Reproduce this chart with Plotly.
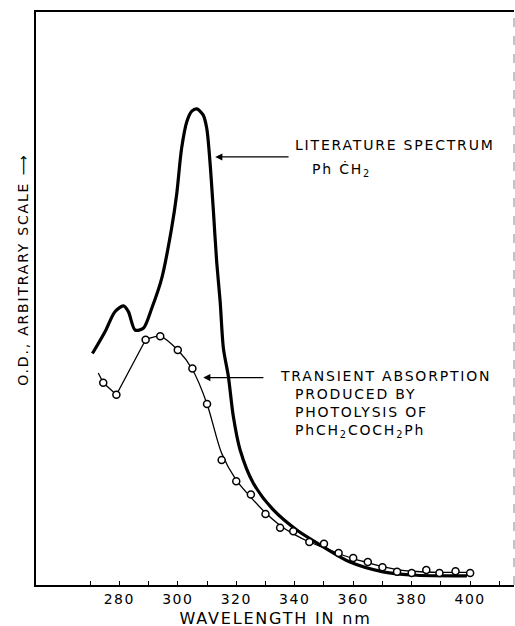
import plotly.graph_objects as go

# ---- data (O.D. in arbitrary units, 0..100) ----
lit_wavelength = [270.8, 275.1, 278.5, 281.4, 283.1, 285.4, 288.2, 291.1, 294.5, 297.9,
                  299.6, 301.3, 303.1, 304.8, 306.5, 308.7, 309.9, 311.0, 312.2, 313.3,
                  314.5, 315.6, 317.3, 319.0, 321.3, 325.8, 332.7, 340.7, 348.7, 358.9,
                  370.2, 381.8, 398.9]
lit_od = [40.4, 44.2, 47.7, 48.7, 47.7, 44.5, 44.8, 48.3, 53.5, 62.3,
          68.1, 76.2, 80.9, 82.7, 83.1, 82.0, 79.7, 73.9, 65.1, 56.4,
          49.4, 41.3, 36.4, 29.4, 23.6, 17.8, 13.1, 9.6, 7.0, 4.0,
          2.3, 1.7, 1.6]

trans_wavelength = [274.5, 279, 289, 294, 300, 305, 310, 315, 320, 325, 330, 335, 339.5,
                    345, 350, 355, 360, 365, 370, 375, 380, 385, 389.5, 395, 400]
trans_od = [35.3, 33.2, 42.8, 43.4, 41.0, 37.8, 31.6, 21.8, 18.1, 15.8, 12.4, 10.0, 9.4,
            7.5, 7.2, 5.6, 4.7, 4.0, 3.1, 2.3, 2.1, 2.6, 2.1, 2.4, 2.1]

# thin guide line drawn through the transient points
fit_start_wavelength = [272.8, 274.5, 279, 289]
fit_start_od = [37.0, 35.3, 33.2, 42.8]
fit_wavelength = [289, 294, 300, 305, 310, 315, 320, 325, 330, 335, 340, 345, 350,
                  355, 360, 365, 370, 375, 380, 390, 400]
fit_od = [42.8, 43.4, 41.0, 37.6, 31.6, 23.0, 18.3, 15.3, 12.6, 10.4, 8.8, 7.5, 6.5,
          5.5, 4.6, 3.9, 3.2, 2.7, 2.4, 2.2, 2.2]

major_ticks = [280, 300, 320, 340, 360, 380, 400]
tick_labels = ["280", "300", "320", "340", "360", "380", "400"]
minor_ticks = [270, 280, 290, 300, 310, 320, 330, 340, 350, 360, 370, 380, 390, 400, 410]

FONT = "DejaVu Sans"

fig = go.Figure()
fig.add_trace(go.Scatter(x=lit_wavelength, y=lit_od, mode="lines",
                         line=dict(color="black", width=3.2, shape="spline", smoothing=0.8),
                         hoverinfo="skip"))
fig.add_trace(go.Scatter(x=fit_start_wavelength, y=fit_start_od, mode="lines",
                         line=dict(color="black", width=1.3), hoverinfo="skip"))
fig.add_trace(go.Scatter(x=fit_wavelength, y=fit_od, mode="lines",
                         line=dict(color="black", width=1.3, shape="spline", smoothing=0.8),
                         hoverinfo="skip"))
fig.add_trace(go.Scatter(x=trans_wavelength, y=trans_od, mode="markers",
                         marker=dict(symbol="circle", size=7, color="white",
                                     line=dict(color="black", width=1.5)),
                         hoverinfo="skip"))

# arrows
fig.add_annotation(x=312.8, y=74.7, ax=338.4, ay=74.7, xref="x", yref="y",
                   axref="x", ayref="y", showarrow=True, arrowhead=2, arrowsize=1.1,
                   arrowwidth=1.3, arrowcolor="black", text="")
fig.add_annotation(x=308.7, y=36.2, ax=329.8, ay=36.2, xref="x", yref="y",
                   axref="x", ayref="y", showarrow=True, arrowhead=2, arrowsize=1.1,
                   arrowwidth=1.3, arrowcolor="black", text="")

def label(x, y, text, size=14):
    fig.add_annotation(x=x, y=y, xref="x", yref="y", text=text, showarrow=False,
                       xanchor="left", yanchor="middle", align="left",
                       font=dict(family=FONT, size=size, color="black"))

label(339.4, 76.8, "LITERATURE SPECTRUM")
label(345.2, 72.5, "Ph ĊH<sub>2</sub>")
label(334.4, 36.4, "TRANSIENT ABSORPTION")
label(339.5, 33.4, "PRODUCED BY")
label(339.5, 30.2, "PHOTOLYSIS OF")
label(339.5, 26.9, "PhCH<sub>2</sub>COCH<sub>2</sub>Ph")

# y-axis title with upward arrow
fig.add_annotation(x=-0.027, y=0.55, xref="paper", yref="paper",
                   text="O.D., ARBITRARY SCALE ⟶", textangle=-90, showarrow=False,
                   xanchor="center", yanchor="middle",
                   font=dict(family=FONT, size=14, color="black"))

# x-axis title
fig.add_annotation(x=0.501, y=-0.0593, xref="paper", yref="paper",
                   text="WAVELENGTH IN nm", showarrow=False,
                   xanchor="center", yanchor="middle",
                   font=dict(family=FONT, size=16, color="black"))

# faint right border
fig.add_shape(type="line", xref="paper", yref="paper", x0=1, x1=1, y0=0, y1=1,
              line=dict(color="#888888", width=1, dash="dash"))

fig.update_layout(
    width=515, height=626,
    margin=dict(l=36, r=1, t=12, b=41),
    paper_bgcolor="white", plot_bgcolor="white",
    showlegend=False,
    xaxis=dict(range=[251.5, 415.0], tickvals=major_ticks, ticktext=tick_labels,
               ticks="inside", ticklen=4, tickwidth=1.2, tickcolor="black",
               minor=dict(tickvals=minor_ticks, ticks="inside", ticklen=4,
                          tickwidth=1.2, tickcolor="black", showgrid=False),
               showline=True, linecolor="black", linewidth=2, mirror=True,
               showgrid=False, zeroline=False,
               tickfont=dict(family=FONT, size=14, color="black")),
    yaxis=dict(range=[0, 100], showticklabels=False, ticks="",
               showline=True, linecolor="black", linewidth=2,
               showgrid=False, zeroline=False),
)

post = """
document.body.style.margin = '0px';
document.querySelectorAll('.annotation-text').forEach(function(e){ e.style.letterSpacing = '1.8px'; });
document.querySelectorAll('.xtick text').forEach(function(e){ e.style.letterSpacing = '1.5px'; });
"""

fig.write_html("out.html", post_script=post, config={"displayModeBar": False})
